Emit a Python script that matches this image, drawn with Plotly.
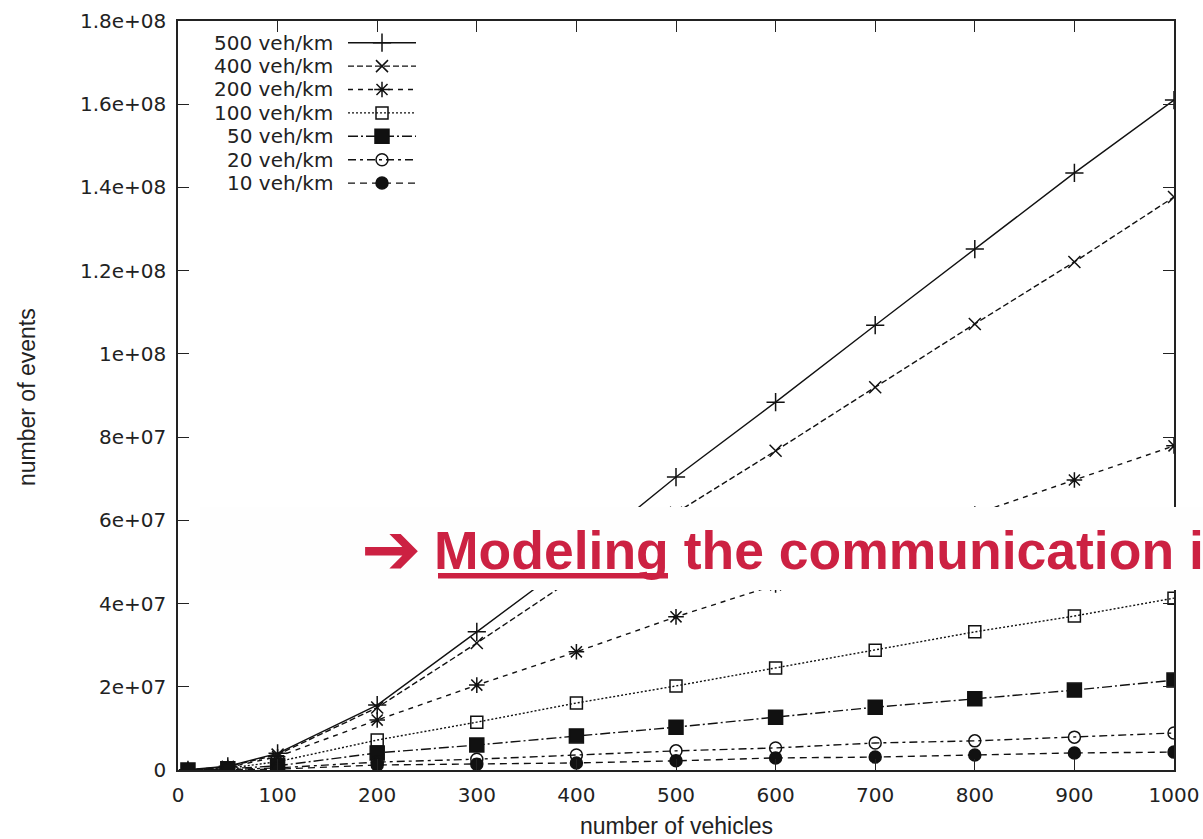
import plotly.graph_objects as go

# ---- data (events in millions) ----
vehicles = [10, 50, 100, 200, 300, 400, 500, 600, 700, 800, 900, 1000]
series_names = ["500 veh/km", "400 veh/km", "200 veh/km", "100 veh/km",
                "50 veh/km", "20 veh/km", "10 veh/km"]
events_500 = [0.05, 0.9, 4.0, 15.6, 33.2, 51.0, 70.4, 88.4, 106.9, 125.2, 143.5, 161.0]
events_400 = [0.05, 0.8, 3.7, 15.0, 30.5, 46.5, 61.8, 76.7, 92.0, 107.2, 122.1, 137.7]
events_200 = [0.04, 0.6, 3.2, 12.0, 20.4, 28.4, 36.8, 44.5, 53.0, 61.5, 69.7, 77.9]
events_100 = [0.03, 0.4, 2.0, 7.2, 11.5, 16.1, 20.2, 24.5, 28.8, 33.2, 37.0, 41.3]
events_50 = [0.02, 0.3, 1.0, 4.1, 6.0, 8.2, 10.3, 12.7, 15.1, 17.1, 19.2, 21.6]
events_20 = [0.01, 0.1, 0.5, 1.9, 2.6, 3.6, 4.6, 5.3, 6.5, 7.0, 7.9, 8.9]
events_10 = [0.01, 0.05, 0.2, 1.2, 1.4, 1.7, 2.2, 2.9, 3.1, 3.6, 4.1, 4.3]

x_tick_vals = [0, 100, 200, 300, 400, 500, 600, 700, 800, 900, 1000]
y_tick_vals = [0, 2e7, 4e7, 6e7, 8e7, 1e8, 1.2e8, 1.4e8, 1.6e8, 1.8e8]
y_tick_text = ["0", "2e+07", "4e+07", "6e+07", "8e+07", "1e+08",
               "1.2e+08", "1.4e+08", "1.6e+08", "1.8e+08"]

x_title = "number of vehicles"
y_title = "number of events"
banner_text = "Modeling the communication i"

# ---- styling ----
W, H = 1203, 839
PL, PR, PT, PB = 178, 1174, 21, 770      # plot area in pixels
INK = "#111111"
RED = "#CC2142"
TICK_FONT = dict(family="DejaVu Sans", size=20, color="#222222")
TITLE_FONT = dict(family="Liberation Sans, Arial", size=23, color="#222222")

styles = [
    dict(dash="solid", symbol="cross-thin", size=13),
    dict(dash="6px,3px", symbol="x-thin", size=12),
    dict(dash="5px,5px", symbol="asterisk", size=13),
    dict(dash="2px,2px", symbol="square-open", size=12),
    dict(dash="10px,3px,2px,3px", symbol="square", size=14),
    dict(dash="8px,4px,3px,4px", symbol="circle-open", size=12),
    dict(dash="7px,5px", symbol="circle", size=12),
]


def px_x(px):
    return (px - PL) / (PR - PL)


def px_y(py):
    return (PB - py) / (PB - PT)


def marker_for(st):
    return dict(symbol=st["symbol"], size=st["size"], color=INK,
                line=dict(color=INK, width=1.5))


all_series = [events_500, events_400, events_200, events_100,
              events_50, events_20, events_10]

fig = go.Figure()

for name, vals, st in zip(series_names, all_series, styles):
    fig.add_trace(go.Scatter(
        x=vehicles, y=[v * 1e6 for v in vals], name=name,
        mode="lines+markers",
        line=dict(color=INK, width=1.4, dash=st["dash"]),
        marker=marker_for(st),
        showlegend=False, hoverinfo="skip",
    ))

# ---- key in the upper-left corner: label, then line sample with marker ----
key_row0, key_step = 42.7, 23.4
sample_x0, sample_x1, sample_mid = 348, 416, 382
annotations = []
for i, (name, st) in enumerate(zip(series_names, styles)):
    ry = px_y(key_row0 + i * key_step)
    fig.add_trace(go.Scatter(
        x=[px_x(sample_x0), px_x(sample_x1)], y=[ry, ry],
        xaxis="x2", yaxis="y2", mode="lines",
        line=dict(color=INK, width=1.4, dash=st["dash"]),
        showlegend=False, hoverinfo="skip",
    ))
    fig.add_trace(go.Scatter(
        x=[px_x(sample_mid)], y=[ry], xaxis="x2", yaxis="y2",
        mode="markers", marker=marker_for(st),
        showlegend=False, hoverinfo="skip",
    ))
    annotations.append(dict(
        text=name, xref="paper", yref="paper",
        x=px_x(335), y=ry, xanchor="right", yanchor="middle",
        showarrow=False, font=TICK_FONT,
    ))

# axis titles
annotations.append(dict(text=x_title, xref="paper", yref="paper",
                        x=px_x(676), y=px_y(826), xanchor="center",
                        yanchor="middle", showarrow=False, font=TITLE_FONT))
annotations.append(dict(text=y_title, xref="paper", yref="paper",
                        x=px_x(27), y=px_y(397), xanchor="center",
                        yanchor="middle", textangle=-90, showarrow=False,
                        font=TITLE_FONT))

# banner over the lower part of the chart
annotations.append(dict(text="<b>\u2794</b>", xref="paper", yref="paper",
                        x=px_x(391), y=px_y(549), xanchor="center",
                        yanchor="middle", showarrow=False,
                        font=dict(family="DejaVu Sans", size=72, color=RED)))
annotations.append(dict(text="<b>" + banner_text + "</b>", xref="paper",
                        yref="paper", x=px_x(432), y=px_y(550),
                        xanchor="left", yanchor="middle", showarrow=False,
                        font=dict(family="Liberation Sans", size=53.5, color=RED)))

shapes = [
    dict(type="rect", xref="paper", yref="paper", layer="above",
         x0=px_x(200), x1=px_x(1215), y0=px_y(590), y1=px_y(507),
         fillcolor="#FEFEFE", line=dict(width=0)),
    dict(type="rect", xref="paper", yref="paper", layer="above",
         x0=px_x(438), x1=px_x(668), y0=px_y(578.5), y1=px_y(573),
         fillcolor=RED, line=dict(width=0)),
]

axis_common = dict(
    showline=True, linecolor="#222222", linewidth=1.5, mirror="ticks",
    ticks="inside", ticklen=11, tickwidth=1.3, tickcolor="#222222",
    showgrid=False, zeroline=False, tickfont=TICK_FONT, automargin=False,
)

fig.update_layout(
    width=W, height=H,
    margin=dict(l=PL, r=W - PR, t=PT, b=H - PB, pad=0),
    paper_bgcolor="white", plot_bgcolor="white",
    showlegend=False,
    xaxis=dict(range=[0, 1000], tickvals=x_tick_vals, ticklabelstandoff=6,
               **axis_common),
    yaxis=dict(range=[0, 1.8e8], tickvals=y_tick_vals, ticktext=y_tick_text,
               ticklabelstandoff=6, **axis_common),
    xaxis2=dict(overlaying="x", range=[0, 1], visible=False),
    yaxis2=dict(overlaying="y", range=[0, 1], visible=False),
    annotations=annotations,
    shapes=shapes,
)

fig.write_html("out.html")
